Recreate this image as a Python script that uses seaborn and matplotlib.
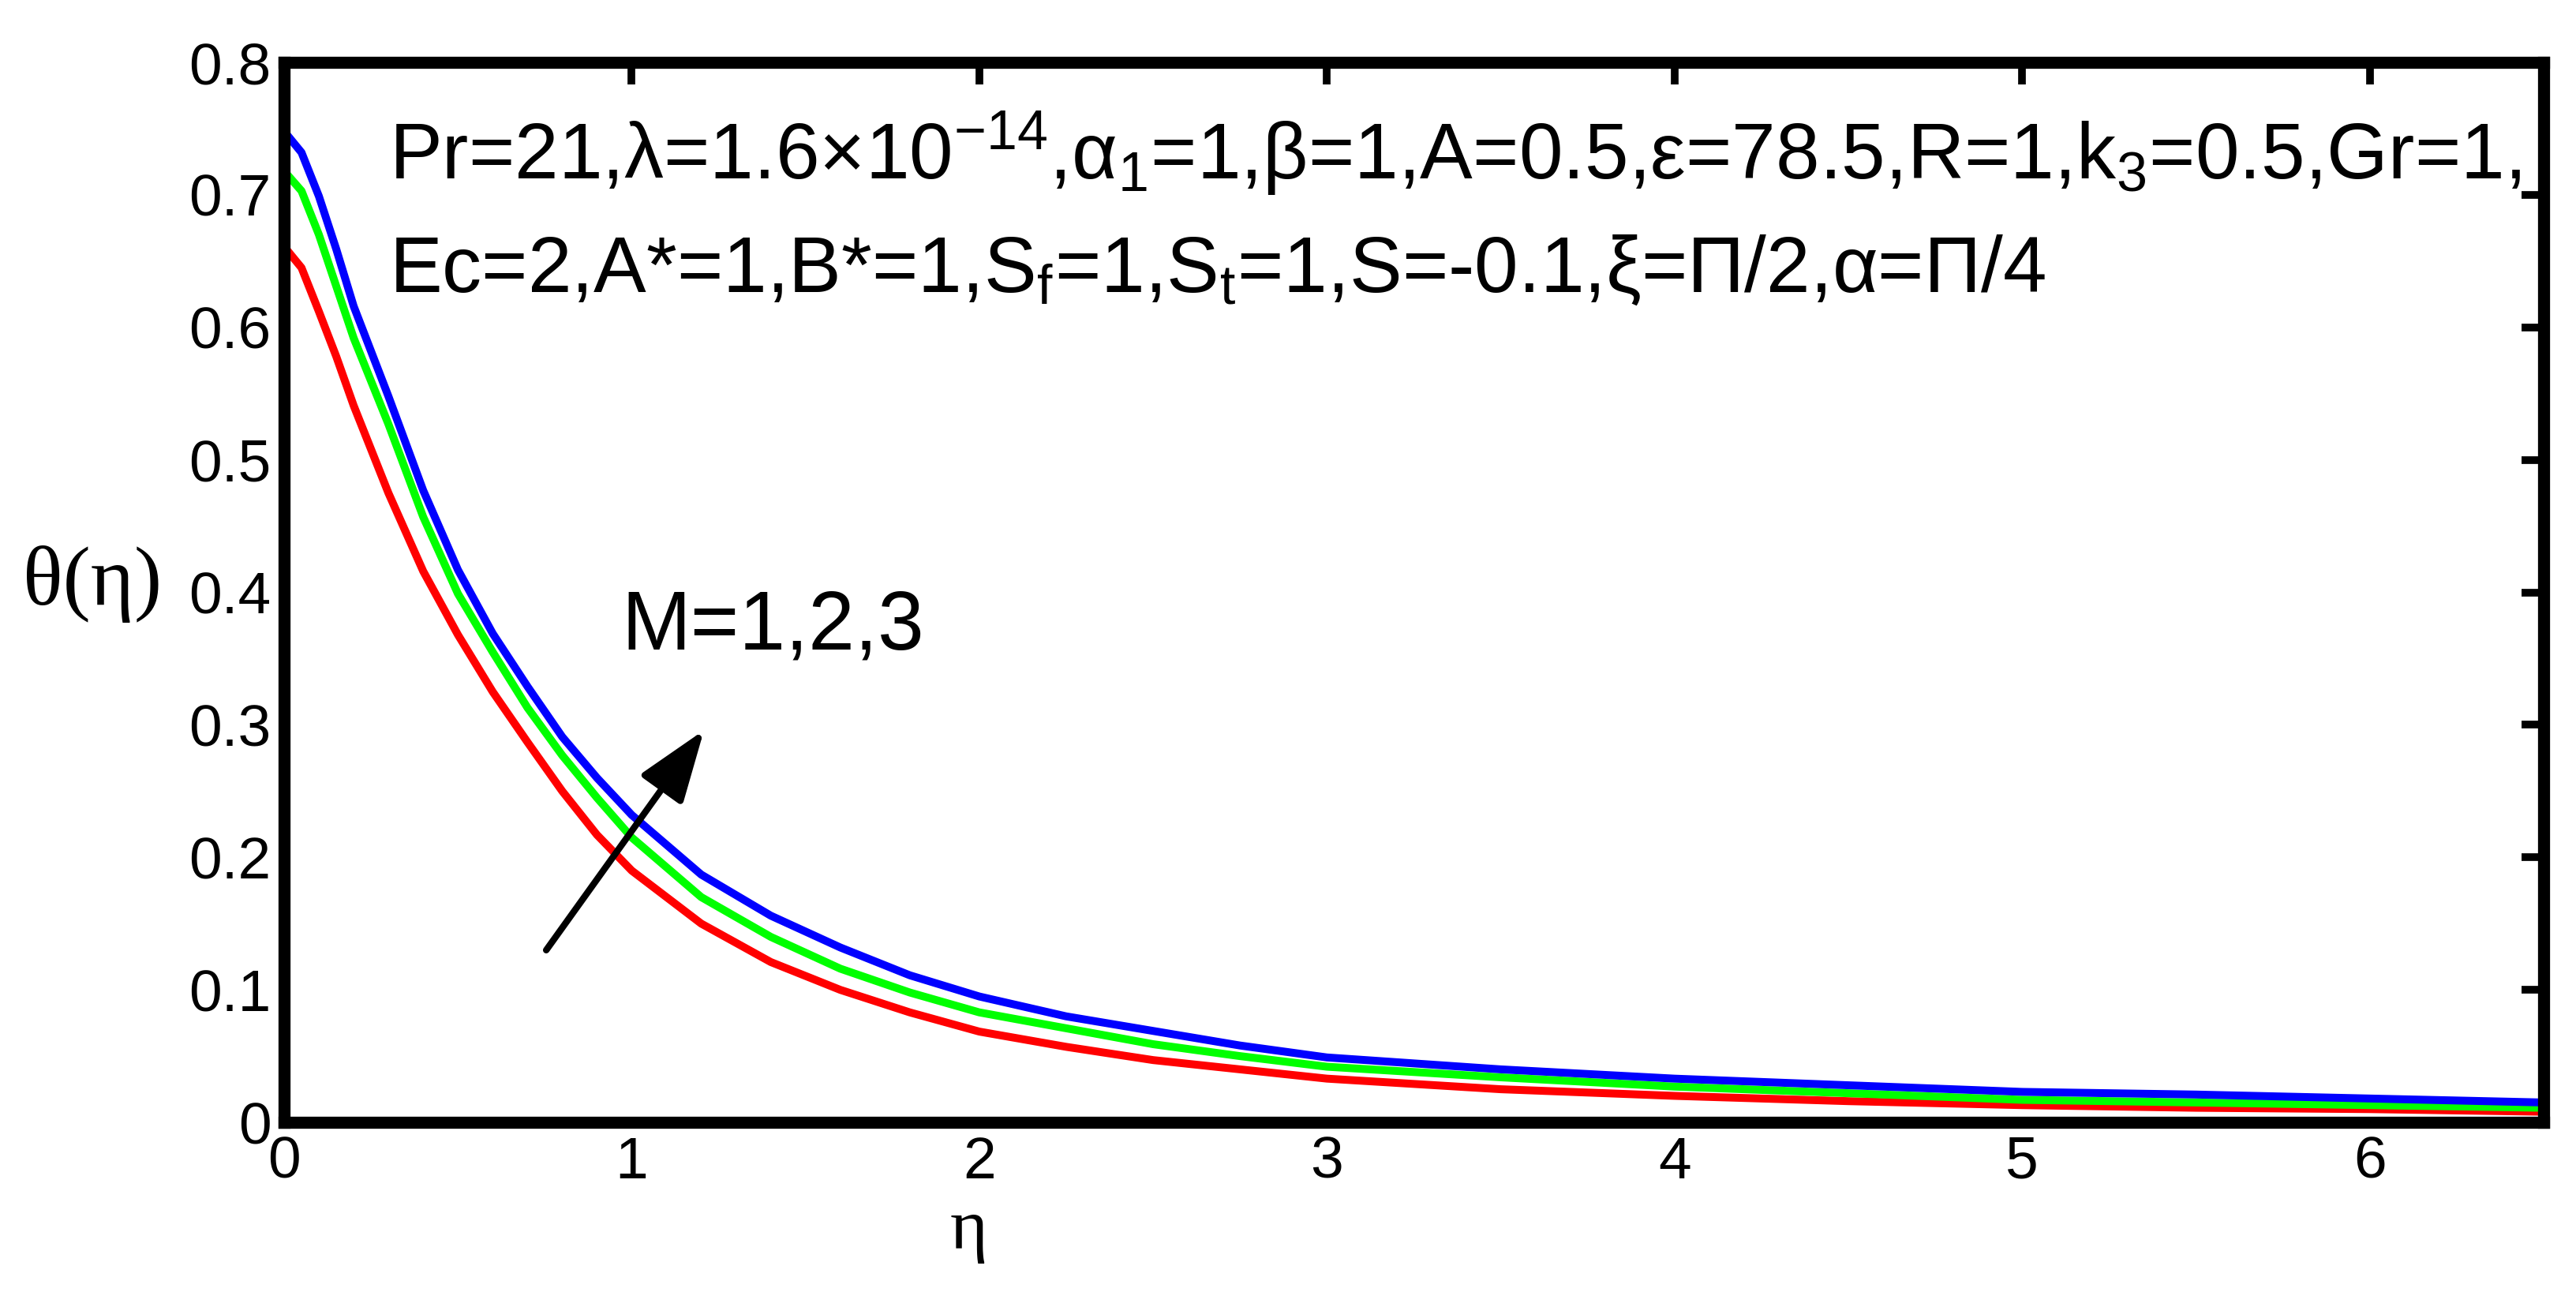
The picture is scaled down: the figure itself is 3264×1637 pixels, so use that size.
import numpy as np
import pandas as pd
import matplotlib
matplotlib.use("Agg")
import matplotlib.pyplot as plt
import seaborn as sns

# 数据
eta = [0, 0.05, 0.1, 0.15, 0.2, 0.3, 0.4, 0.5, 0.6, 0.7, 0.8, 0.9, 1.0, 1.2, 1.4,
       1.6, 1.8, 2.0, 2.25, 2.5, 2.75, 3.0, 3.5, 4.0, 4.5, 5.0, 5.5, 6.0, 6.5]
theta_m1 = [0.661, 0.645, 0.612, 0.578, 0.541, 0.475, 0.416, 0.368, 0.325, 0.287,
            0.250, 0.217, 0.190, 0.150, 0.121, 0.100, 0.083, 0.0685, 0.057, 0.047,
            0.040, 0.033, 0.025, 0.020, 0.016, 0.013, 0.011, 0.010, 0.008]
theta_m2 = [0.718, 0.703, 0.670, 0.631, 0.592, 0.527, 0.457, 0.399, 0.355, 0.313,
            0.277, 0.245, 0.215, 0.170, 0.140, 0.116, 0.098, 0.083, 0.071, 0.059,
            0.050, 0.042, 0.034, 0.027, 0.022, 0.017, 0.015, 0.013, 0.011]
theta_m3 = [0.748, 0.732, 0.699, 0.659, 0.616, 0.548, 0.477, 0.417, 0.369, 0.329,
            0.291, 0.260, 0.232, 0.187, 0.156, 0.132, 0.111, 0.095, 0.080, 0.069,
            0.058, 0.049, 0.040, 0.033, 0.028, 0.023, 0.021, 0.018, 0.015]
m_values = ["M=1", "M=2", "M=3"]
line_colors = ["#ff0000", "#00ff00", "#0000ff"]

x_ticks = [0, 1, 2, 3, 4, 5, 6]
y_ticks = [0, 0.1, 0.2, 0.3, 0.4, 0.5, 0.6, 0.7, 0.8]
y_ticklabels = ["0", "0.1", "0.2", "0.3", "0.4", "0.5", "0.6", "0.7", "0.8"]

line1 = (r"Pr=21,λ=1.6×10$^{\mathregular{-14}}$,α$_{\mathregular{1}}$=1,β=1,A=0.5,"
         r"ε=78.5,R=1,k$_{\mathregular{3}}$=0.5,Gr=1,")
line2 = (r"Ec=2,A*=1,B*=1,S$_{\mathregular{f}}$=1,S$_{\mathregular{t}}$=1,"
         r"S=-0.1,ξ=Π/2,α=Π/4")

df = pd.DataFrame({
    "eta": eta * 3,
    "theta": theta_m1 + theta_m2 + theta_m3,
    "M": [m for m in m_values for _ in eta],
})

sns.set_style("white")
plt.rcParams["font.family"] = ["Liberation Sans", "DejaVu Sans"]
plt.rcParams["mathtext.fontset"] = "custom"
plt.rcParams["mathtext.rm"] = "Liberation Sans"
plt.rcParams["mathtext.it"] = "Liberation Sans:italic"
for key in ["text.color", "axes.labelcolor", "xtick.color", "ytick.color"]:
    plt.rcParams[key] = "black"

fig = plt.figure(figsize=(16.32, 8.185), dpi=200)
ax = fig.add_axes([0.1103, 0.1313, 0.8771, 0.8204])

sns.lineplot(data=df, x="eta", y="theta", hue="M", palette=line_colors,
             linewidth=3.6, legend=False, estimator=None, sort=False, ax=ax)

ax.set_xlim(0, 6.5)
ax.set_ylim(0, 0.8)
ax.set_xticks(x_ticks)
ax.set_xticklabels([str(v) for v in x_ticks])
ax.set_yticks(y_ticks)
ax.set_yticklabels(y_ticklabels)
ax.tick_params(direction="in", top=True, right=True, length=10, width=3.5,
               labelsize=27, pad=6, colors="black")
for sp in ax.spines.values():
    sp.set_linewidth(5.5)
    sp.set_color("black")

ax.set_xlabel("η", fontsize=33, family=["Liberation Serif", "DejaVu Serif"])
ax.xaxis.set_label_coords(0.303, -0.072)
ax.set_ylabel("θ(η)", fontsize=38, rotation=0, ha="center", va="center",
              family=["Liberation Serif", "DejaVu Serif"])
ax.yaxis.set_label_coords(-0.085, 0.508)

# 参数说明
ax.text(0.302, 0.712, line1, fontsize=36, va="baseline")
ax.text(0.302, 0.627, line2, fontsize=36, va="baseline")
ax.text(0.97, 0.357, "M=1,2,3", fontsize=38, va="baseline")

ax.annotate("", xy=(1.208, 0.296), xytext=(0.754, 0.130),
            arrowprops=dict(arrowstyle="-|>,head_length=0.7,head_width=0.25",
                            lw=3.0, color="black", mutation_scale=40,
                            shrinkA=0, shrinkB=0))

fig.savefig("out.png", dpi=200)
